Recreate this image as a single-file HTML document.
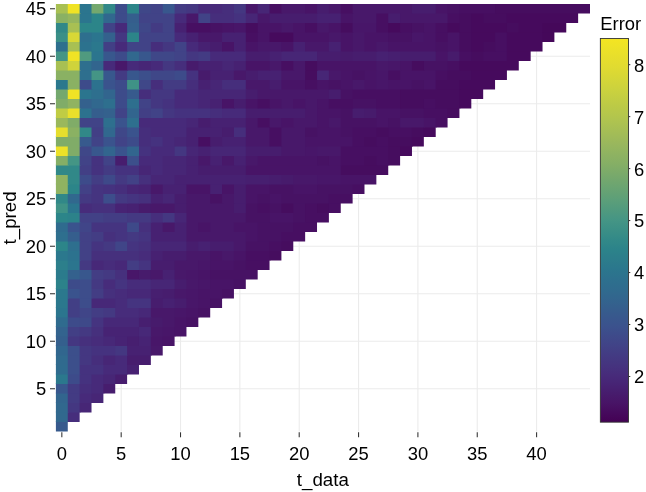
<!DOCTYPE html>
<html><head><meta charset="utf-8"><style>
html,body{margin:0;padding:0;background:#fff;}
svg{display:block;will-change:transform;}
text{font-family:"Liberation Sans",sans-serif;font-size:18.4px;fill:#000;}
</style></head><body>
<svg width="646" height="492" viewBox="0 0 646 492">
<defs><linearGradient id="lg" x1="0" y1="0" x2="0" y2="1"><stop offset="0.000" stop-color="#f4e522"/><stop offset="0.025" stop-color="#ede227"/><stop offset="0.050" stop-color="#e7de2c"/><stop offset="0.075" stop-color="#e0db31"/><stop offset="0.100" stop-color="#d7d736"/><stop offset="0.125" stop-color="#ced33c"/><stop offset="0.150" stop-color="#c5cf41"/><stop offset="0.175" stop-color="#bcca46"/><stop offset="0.200" stop-color="#b4c64c"/><stop offset="0.225" stop-color="#abc152"/><stop offset="0.250" stop-color="#a2bc57"/><stop offset="0.275" stop-color="#99b75d"/><stop offset="0.300" stop-color="#8fb361"/><stop offset="0.325" stop-color="#86af65"/><stop offset="0.350" stop-color="#7baa6a"/><stop offset="0.375" stop-color="#70a66f"/><stop offset="0.400" stop-color="#65a274"/><stop offset="0.425" stop-color="#5a9e7a"/><stop offset="0.450" stop-color="#4f997f"/><stop offset="0.475" stop-color="#449585"/><stop offset="0.500" stop-color="#3b8f86"/><stop offset="0.525" stop-color="#328988"/><stop offset="0.550" stop-color="#2c838a"/><stop offset="0.575" stop-color="#2c7d8b"/><stop offset="0.600" stop-color="#2b778d"/><stop offset="0.625" stop-color="#2d718e"/><stop offset="0.650" stop-color="#2f6c8e"/><stop offset="0.675" stop-color="#32668e"/><stop offset="0.700" stop-color="#355f8d"/><stop offset="0.725" stop-color="#38588d"/><stop offset="0.750" stop-color="#3b528d"/><stop offset="0.775" stop-color="#3e4a8a"/><stop offset="0.800" stop-color="#414387"/><stop offset="0.825" stop-color="#433b83"/><stop offset="0.850" stop-color="#45347f"/><stop offset="0.875" stop-color="#472c7b"/><stop offset="0.900" stop-color="#472475"/><stop offset="0.925" stop-color="#471c6d"/><stop offset="0.950" stop-color="#481466"/><stop offset="0.975" stop-color="#460a5d"/><stop offset="1.000" stop-color="#440154"/></linearGradient></defs>
<rect width="646" height="492" fill="#fff"/>
<g stroke="#ebebeb" stroke-width="1.07"><line x1="61.83" y1="4.0" x2="61.83" y2="431.5"/><line x1="121.18" y1="4.0" x2="121.18" y2="431.5"/><line x1="180.52" y1="4.0" x2="180.52" y2="431.5"/><line x1="239.87" y1="4.0" x2="239.87" y2="431.5"/><line x1="299.21" y1="4.0" x2="299.21" y2="431.5"/><line x1="358.56" y1="4.0" x2="358.56" y2="431.5"/><line x1="417.90" y1="4.0" x2="417.90" y2="431.5"/><line x1="477.25" y1="4.0" x2="477.25" y2="431.5"/><line x1="536.59" y1="4.0" x2="536.59" y2="431.5"/><line x1="55.9" y1="388.75" x2="590.0" y2="388.75"/><line x1="55.9" y1="341.25" x2="590.0" y2="341.25"/><line x1="55.9" y1="293.75" x2="590.0" y2="293.75"/><line x1="55.9" y1="246.25" x2="590.0" y2="246.25"/><line x1="55.9" y1="198.75" x2="590.0" y2="198.75"/><line x1="55.9" y1="151.25" x2="590.0" y2="151.25"/><line x1="55.9" y1="103.75" x2="590.0" y2="103.75"/><line x1="55.9" y1="56.25" x2="590.0" y2="56.25"/><line x1="55.9" y1="8.75" x2="590.0" y2="8.75"/></g>
<g><rect x="55.90" y="421.00" width="11.87" height="10.50" fill="#375a8d"/><rect x="55.90" y="411.50" width="12.87" height="10.50" fill="#31688e"/><rect x="67.77" y="411.50" width="11.87" height="10.50" fill="#462e7c"/><rect x="55.90" y="402.00" width="12.87" height="10.50" fill="#31688e"/><rect x="67.77" y="402.00" width="12.87" height="10.50" fill="#443781"/><rect x="79.64" y="402.00" width="11.87" height="10.50" fill="#472676"/><rect x="55.90" y="392.50" width="12.87" height="10.50" fill="#32658e"/><rect x="67.77" y="392.50" width="12.87" height="10.50" fill="#433b83"/><rect x="79.64" y="392.50" width="12.87" height="10.50" fill="#472a7a"/><rect x="91.51" y="392.50" width="11.87" height="10.50" fill="#472676"/><rect x="55.90" y="383.00" width="12.87" height="10.50" fill="#38578d"/><rect x="67.77" y="383.00" width="12.87" height="10.50" fill="#433b83"/><rect x="79.64" y="383.00" width="12.87" height="10.50" fill="#462e7c"/><rect x="91.51" y="383.00" width="12.87" height="10.50" fill="#472a7a"/><rect x="103.38" y="383.00" width="11.87" height="10.50" fill="#471d6e"/><rect x="55.90" y="373.50" width="12.87" height="10.50" fill="#2b788d"/><rect x="67.77" y="373.50" width="12.87" height="10.50" fill="#3d4b8a"/><rect x="79.64" y="373.50" width="12.87" height="10.50" fill="#45327f"/><rect x="91.51" y="373.50" width="12.87" height="10.50" fill="#472a7a"/><rect x="103.38" y="373.50" width="12.87" height="10.50" fill="#472676"/><rect x="115.24" y="373.50" width="11.87" height="10.50" fill="#471d6e"/><rect x="55.90" y="364.00" width="12.87" height="10.50" fill="#2f6b8e"/><rect x="67.77" y="364.00" width="12.87" height="10.50" fill="#3c4f8b"/><rect x="79.64" y="364.00" width="24.74" height="10.50" fill="#45327f"/><rect x="103.38" y="364.00" width="24.74" height="10.50" fill="#472a7a"/><rect x="127.11" y="364.00" width="11.87" height="10.50" fill="#472172"/><rect x="55.90" y="354.50" width="12.87" height="10.50" fill="#306a8e"/><rect x="67.77" y="354.50" width="12.87" height="10.50" fill="#3c4f8b"/><rect x="79.64" y="354.50" width="12.87" height="10.50" fill="#443781"/><rect x="91.51" y="354.50" width="12.87" height="10.50" fill="#462e7c"/><rect x="103.38" y="354.50" width="12.87" height="10.50" fill="#472676"/><rect x="115.24" y="354.50" width="12.87" height="10.50" fill="#472a7a"/><rect x="127.11" y="354.50" width="23.74" height="10.50" fill="#471d6e"/><rect x="55.90" y="345.00" width="12.87" height="10.50" fill="#31668e"/><rect x="67.77" y="345.00" width="12.87" height="10.50" fill="#3c4f8b"/><rect x="79.64" y="345.00" width="12.87" height="10.50" fill="#443781"/><rect x="91.51" y="345.00" width="24.74" height="10.50" fill="#45327f"/><rect x="115.24" y="345.00" width="12.87" height="10.50" fill="#443781"/><rect x="127.11" y="345.00" width="24.74" height="10.50" fill="#472172"/><rect x="150.85" y="345.00" width="11.87" height="10.50" fill="#48186a"/><rect x="55.90" y="335.50" width="12.87" height="10.50" fill="#345f8d"/><rect x="67.77" y="335.50" width="12.87" height="10.50" fill="#443781"/><rect x="79.64" y="335.50" width="12.87" height="10.50" fill="#46307d"/><rect x="91.51" y="335.50" width="12.87" height="10.50" fill="#472c7b"/><rect x="103.38" y="335.50" width="12.87" height="10.50" fill="#472878"/><rect x="115.24" y="335.50" width="12.87" height="10.50" fill="#472374"/><rect x="127.11" y="335.50" width="12.87" height="10.50" fill="#471f70"/><rect x="138.98" y="335.50" width="12.87" height="10.50" fill="#472374"/><rect x="150.85" y="335.50" width="12.87" height="10.50" fill="#481669"/><rect x="162.72" y="335.50" width="11.87" height="10.50" fill="#481467"/><rect x="55.90" y="326.00" width="12.87" height="10.50" fill="#33638e"/><rect x="67.77" y="326.00" width="12.87" height="10.50" fill="#423f85"/><rect x="79.64" y="326.00" width="12.87" height="10.50" fill="#443982"/><rect x="91.51" y="326.00" width="12.87" height="10.50" fill="#46307d"/><rect x="103.38" y="326.00" width="36.61" height="10.50" fill="#472374"/><rect x="138.98" y="326.00" width="12.87" height="10.50" fill="#472878"/><rect x="150.85" y="326.00" width="12.87" height="10.50" fill="#48186a"/><rect x="162.72" y="326.00" width="12.87" height="10.50" fill="#481669"/><rect x="174.59" y="326.00" width="11.87" height="10.50" fill="#481467"/><rect x="55.90" y="316.50" width="12.87" height="10.50" fill="#2f6b8e"/><rect x="67.77" y="316.50" width="12.87" height="10.50" fill="#3d4b8a"/><rect x="79.64" y="316.50" width="12.87" height="10.50" fill="#3e4989"/><rect x="91.51" y="316.50" width="12.87" height="10.50" fill="#453480"/><rect x="103.38" y="316.50" width="36.61" height="10.50" fill="#472878"/><rect x="138.98" y="316.50" width="12.87" height="10.50" fill="#471f70"/><rect x="150.85" y="316.50" width="12.87" height="10.50" fill="#471b6c"/><rect x="162.72" y="316.50" width="12.87" height="10.50" fill="#48186a"/><rect x="174.59" y="316.50" width="12.87" height="10.50" fill="#481467"/><rect x="186.46" y="316.50" width="11.87" height="10.50" fill="#471264"/><rect x="55.90" y="307.00" width="12.87" height="10.50" fill="#2b758e"/><rect x="67.77" y="307.00" width="12.87" height="10.50" fill="#423f85"/><rect x="79.64" y="307.00" width="12.87" height="10.50" fill="#404588"/><rect x="91.51" y="307.00" width="12.87" height="10.50" fill="#433d84"/><rect x="103.38" y="307.00" width="12.87" height="10.50" fill="#443982"/><rect x="115.24" y="307.00" width="24.74" height="10.50" fill="#472c7b"/><rect x="138.98" y="307.00" width="12.87" height="10.50" fill="#472878"/><rect x="150.85" y="307.00" width="24.74" height="10.50" fill="#48186a"/><rect x="174.59" y="307.00" width="12.87" height="10.50" fill="#481669"/><rect x="186.46" y="307.00" width="12.87" height="10.50" fill="#481467"/><rect x="198.33" y="307.00" width="11.87" height="10.50" fill="#471264"/><rect x="55.90" y="297.50" width="12.87" height="10.50" fill="#2b788d"/><rect x="67.77" y="297.50" width="12.87" height="10.50" fill="#423f85"/><rect x="79.64" y="297.50" width="12.87" height="10.50" fill="#3d4d8b"/><rect x="91.51" y="297.50" width="24.74" height="10.50" fill="#472878"/><rect x="115.24" y="297.50" width="12.87" height="10.50" fill="#472c7b"/><rect x="127.11" y="297.50" width="24.74" height="10.50" fill="#453480"/><rect x="150.85" y="297.50" width="12.87" height="10.50" fill="#471d6e"/><rect x="162.72" y="297.50" width="12.87" height="10.50" fill="#472172"/><rect x="174.59" y="297.50" width="12.87" height="10.50" fill="#471d6e"/><rect x="186.46" y="297.50" width="12.87" height="10.50" fill="#481669"/><rect x="198.33" y="297.50" width="12.87" height="10.50" fill="#481467"/><rect x="210.20" y="297.50" width="11.87" height="10.50" fill="#471264"/><rect x="55.90" y="288.00" width="12.87" height="10.50" fill="#2b788d"/><rect x="67.77" y="288.00" width="12.87" height="10.50" fill="#3a538d"/><rect x="79.64" y="288.00" width="12.87" height="10.50" fill="#3d4d8b"/><rect x="91.51" y="288.00" width="12.87" height="10.50" fill="#433d84"/><rect x="103.38" y="288.00" width="12.87" height="10.50" fill="#46307d"/><rect x="115.24" y="288.00" width="12.87" height="10.50" fill="#472c7b"/><rect x="127.11" y="288.00" width="24.74" height="10.50" fill="#472878"/><rect x="150.85" y="288.00" width="12.87" height="10.50" fill="#471f70"/><rect x="162.72" y="288.00" width="12.87" height="10.50" fill="#471d6e"/><rect x="174.59" y="288.00" width="12.87" height="10.50" fill="#48186a"/><rect x="186.46" y="288.00" width="12.87" height="10.50" fill="#481669"/><rect x="198.33" y="288.00" width="24.74" height="10.50" fill="#481467"/><rect x="222.06" y="288.00" width="11.87" height="10.50" fill="#471264"/><rect x="55.90" y="278.50" width="12.87" height="10.50" fill="#2c828a"/><rect x="67.77" y="278.50" width="12.87" height="10.50" fill="#3d4b8a"/><rect x="79.64" y="278.50" width="12.87" height="10.50" fill="#3d4d8b"/><rect x="91.51" y="278.50" width="12.87" height="10.50" fill="#443982"/><rect x="103.38" y="278.50" width="12.87" height="10.50" fill="#472c7b"/><rect x="115.24" y="278.50" width="12.87" height="10.50" fill="#453480"/><rect x="127.11" y="278.50" width="24.74" height="10.50" fill="#472c7b"/><rect x="150.85" y="278.50" width="24.74" height="10.50" fill="#472676"/><rect x="174.59" y="278.50" width="12.87" height="10.50" fill="#471d6e"/><rect x="186.46" y="278.50" width="12.87" height="10.50" fill="#48186a"/><rect x="198.33" y="278.50" width="12.87" height="10.50" fill="#481669"/><rect x="210.20" y="278.50" width="24.74" height="10.50" fill="#481467"/><rect x="233.93" y="278.50" width="11.87" height="10.50" fill="#471264"/><rect x="55.90" y="269.00" width="12.87" height="10.50" fill="#2b7b8c"/><rect x="67.77" y="269.00" width="12.87" height="10.50" fill="#34618d"/><rect x="79.64" y="269.00" width="12.87" height="10.50" fill="#38578d"/><rect x="91.51" y="269.00" width="12.87" height="10.50" fill="#433d84"/><rect x="103.38" y="269.00" width="12.87" height="10.50" fill="#443982"/><rect x="115.24" y="269.00" width="12.87" height="10.50" fill="#46307d"/><rect x="127.11" y="269.00" width="12.87" height="10.50" fill="#481669"/><rect x="138.98" y="269.00" width="12.87" height="10.50" fill="#471b6c"/><rect x="150.85" y="269.00" width="12.87" height="10.50" fill="#48186a"/><rect x="162.72" y="269.00" width="12.87" height="10.50" fill="#472172"/><rect x="174.59" y="269.00" width="12.87" height="10.50" fill="#48186a"/><rect x="186.46" y="269.00" width="12.87" height="10.50" fill="#481669"/><rect x="198.33" y="269.00" width="12.87" height="10.50" fill="#481467"/><rect x="210.20" y="269.00" width="47.48" height="10.50" fill="#471264"/><rect x="55.90" y="259.50" width="12.87" height="10.50" fill="#2c7f8b"/><rect x="67.77" y="259.50" width="12.87" height="10.50" fill="#2b758e"/><rect x="79.64" y="259.50" width="12.87" height="10.50" fill="#443982"/><rect x="91.51" y="259.50" width="12.87" height="10.50" fill="#472878"/><rect x="103.38" y="259.50" width="12.87" height="10.50" fill="#472c7b"/><rect x="115.24" y="259.50" width="12.87" height="10.50" fill="#472878"/><rect x="127.11" y="259.50" width="12.87" height="10.50" fill="#433d84"/><rect x="138.98" y="259.50" width="12.87" height="10.50" fill="#453480"/><rect x="150.85" y="259.50" width="24.74" height="10.50" fill="#471d6e"/><rect x="174.59" y="259.50" width="24.74" height="10.50" fill="#48186a"/><rect x="198.33" y="259.50" width="12.87" height="10.50" fill="#481669"/><rect x="210.20" y="259.50" width="24.74" height="10.50" fill="#481467"/><rect x="233.93" y="259.50" width="12.87" height="10.50" fill="#471264"/><rect x="245.80" y="259.50" width="23.74" height="10.50" fill="#470f62"/><rect x="55.90" y="250.00" width="12.87" height="10.50" fill="#2b788d"/><rect x="67.77" y="250.00" width="12.87" height="10.50" fill="#2c728e"/><rect x="79.64" y="250.00" width="12.87" height="10.50" fill="#424186"/><rect x="91.51" y="250.00" width="48.48" height="10.50" fill="#46307d"/><rect x="138.98" y="250.00" width="12.87" height="10.50" fill="#472c7b"/><rect x="150.85" y="250.00" width="12.87" height="10.50" fill="#472172"/><rect x="162.72" y="250.00" width="24.74" height="10.50" fill="#471d6e"/><rect x="186.46" y="250.00" width="24.74" height="10.50" fill="#48186a"/><rect x="210.20" y="250.00" width="12.87" height="10.50" fill="#481467"/><rect x="222.06" y="250.00" width="12.87" height="10.50" fill="#48186a"/><rect x="233.93" y="250.00" width="12.87" height="10.50" fill="#481467"/><rect x="245.80" y="250.00" width="24.74" height="10.50" fill="#470f62"/><rect x="269.54" y="250.00" width="11.87" height="10.50" fill="#460d5f"/><rect x="55.90" y="240.50" width="12.87" height="10.50" fill="#2c8589"/><rect x="67.77" y="240.50" width="12.87" height="10.50" fill="#2e6f8e"/><rect x="79.64" y="240.50" width="12.87" height="10.50" fill="#424186"/><rect x="91.51" y="240.50" width="12.87" height="10.50" fill="#453480"/><rect x="103.38" y="240.50" width="12.87" height="10.50" fill="#443982"/><rect x="115.24" y="240.50" width="12.87" height="10.50" fill="#404588"/><rect x="127.11" y="240.50" width="12.87" height="10.50" fill="#453480"/><rect x="138.98" y="240.50" width="12.87" height="10.50" fill="#46307d"/><rect x="150.85" y="240.50" width="36.61" height="10.50" fill="#472676"/><rect x="186.46" y="240.50" width="12.87" height="10.50" fill="#471d6e"/><rect x="198.33" y="240.50" width="12.87" height="10.50" fill="#472172"/><rect x="210.20" y="240.50" width="24.74" height="10.50" fill="#471d6e"/><rect x="233.93" y="240.50" width="12.87" height="10.50" fill="#48186a"/><rect x="245.80" y="240.50" width="24.74" height="10.50" fill="#471264"/><rect x="269.54" y="240.50" width="12.87" height="10.50" fill="#470f62"/><rect x="281.41" y="240.50" width="11.87" height="10.50" fill="#460d5f"/><rect x="55.90" y="231.00" width="12.87" height="10.50" fill="#2e6f8e"/><rect x="67.77" y="231.00" width="12.87" height="10.50" fill="#355e8d"/><rect x="79.64" y="231.00" width="12.87" height="10.50" fill="#424186"/><rect x="91.51" y="231.00" width="12.87" height="10.50" fill="#433d84"/><rect x="103.38" y="231.00" width="12.87" height="10.50" fill="#46307d"/><rect x="115.24" y="231.00" width="12.87" height="10.50" fill="#453480"/><rect x="127.11" y="231.00" width="12.87" height="10.50" fill="#443982"/><rect x="138.98" y="231.00" width="12.87" height="10.50" fill="#453480"/><rect x="150.85" y="231.00" width="36.61" height="10.50" fill="#472172"/><rect x="186.46" y="231.00" width="60.34" height="10.50" fill="#48186a"/><rect x="245.80" y="231.00" width="12.87" height="10.50" fill="#481467"/><rect x="257.67" y="231.00" width="24.74" height="10.50" fill="#471264"/><rect x="281.41" y="231.00" width="23.74" height="10.50" fill="#470f62"/><rect x="55.90" y="221.50" width="12.87" height="10.50" fill="#2f6b8e"/><rect x="67.77" y="221.50" width="12.87" height="10.50" fill="#3a538d"/><rect x="79.64" y="221.50" width="12.87" height="10.50" fill="#404588"/><rect x="91.51" y="221.50" width="36.61" height="10.50" fill="#453480"/><rect x="127.11" y="221.50" width="12.87" height="10.50" fill="#3e4989"/><rect x="138.98" y="221.50" width="12.87" height="10.50" fill="#46307d"/><rect x="150.85" y="221.50" width="12.87" height="10.50" fill="#472172"/><rect x="162.72" y="221.50" width="12.87" height="10.50" fill="#48186a"/><rect x="174.59" y="221.50" width="12.87" height="10.50" fill="#472172"/><rect x="186.46" y="221.50" width="12.87" height="10.50" fill="#48186a"/><rect x="198.33" y="221.50" width="12.87" height="10.50" fill="#481467"/><rect x="210.20" y="221.50" width="24.74" height="10.50" fill="#48186a"/><rect x="233.93" y="221.50" width="24.74" height="10.50" fill="#481467"/><rect x="257.67" y="221.50" width="36.61" height="10.50" fill="#471264"/><rect x="293.28" y="221.50" width="23.74" height="10.50" fill="#470f62"/><rect x="55.90" y="212.00" width="12.87" height="10.50" fill="#2c8589"/><rect x="67.77" y="212.00" width="12.87" height="10.50" fill="#2c828a"/><rect x="79.64" y="212.00" width="24.74" height="10.50" fill="#424186"/><rect x="103.38" y="212.00" width="24.74" height="10.50" fill="#433d84"/><rect x="127.11" y="212.00" width="24.74" height="10.50" fill="#443982"/><rect x="150.85" y="212.00" width="12.87" height="10.50" fill="#462e7c"/><rect x="162.72" y="212.00" width="12.87" height="10.50" fill="#443781"/><rect x="174.59" y="212.00" width="12.87" height="10.50" fill="#472676"/><rect x="186.46" y="212.00" width="60.34" height="10.50" fill="#48186a"/><rect x="245.80" y="212.00" width="24.74" height="10.50" fill="#471264"/><rect x="269.54" y="212.00" width="24.74" height="10.50" fill="#481467"/><rect x="293.28" y="212.00" width="12.87" height="10.50" fill="#471264"/><rect x="305.15" y="212.00" width="23.74" height="10.50" fill="#470f62"/><rect x="55.90" y="202.50" width="12.87" height="10.50" fill="#3f9286"/><rect x="67.77" y="202.50" width="12.87" height="10.50" fill="#2b758e"/><rect x="79.64" y="202.50" width="12.87" height="10.50" fill="#472c7b"/><rect x="91.51" y="202.50" width="24.74" height="10.50" fill="#46307d"/><rect x="115.24" y="202.50" width="12.87" height="10.50" fill="#472374"/><rect x="127.11" y="202.50" width="12.87" height="10.50" fill="#472172"/><rect x="138.98" y="202.50" width="12.87" height="10.50" fill="#471b6c"/><rect x="150.85" y="202.50" width="24.74" height="10.50" fill="#48186a"/><rect x="174.59" y="202.50" width="12.87" height="10.50" fill="#471d6e"/><rect x="186.46" y="202.50" width="48.48" height="10.50" fill="#48186a"/><rect x="233.93" y="202.50" width="12.87" height="10.50" fill="#471d6e"/><rect x="245.80" y="202.50" width="12.87" height="10.50" fill="#471264"/><rect x="257.67" y="202.50" width="12.87" height="10.50" fill="#470f62"/><rect x="269.54" y="202.50" width="12.87" height="10.50" fill="#471264"/><rect x="281.41" y="202.50" width="12.87" height="10.50" fill="#460d5f"/><rect x="293.28" y="202.50" width="12.87" height="10.50" fill="#471264"/><rect x="305.15" y="202.50" width="12.87" height="10.50" fill="#470f62"/><rect x="317.02" y="202.50" width="12.87" height="10.50" fill="#460d5f"/><rect x="328.88" y="202.50" width="11.87" height="10.50" fill="#470f62"/><rect x="55.90" y="193.00" width="12.87" height="10.50" fill="#318888"/><rect x="67.77" y="193.00" width="12.87" height="10.50" fill="#31688e"/><rect x="79.64" y="193.00" width="12.87" height="10.50" fill="#443982"/><rect x="91.51" y="193.00" width="12.87" height="10.50" fill="#453480"/><rect x="103.38" y="193.00" width="12.87" height="10.50" fill="#3d4d8b"/><rect x="115.24" y="193.00" width="12.87" height="10.50" fill="#443982"/><rect x="127.11" y="193.00" width="12.87" height="10.50" fill="#453480"/><rect x="138.98" y="193.00" width="12.87" height="10.50" fill="#46307d"/><rect x="150.85" y="193.00" width="12.87" height="10.50" fill="#472172"/><rect x="162.72" y="193.00" width="12.87" height="10.50" fill="#472676"/><rect x="174.59" y="193.00" width="12.87" height="10.50" fill="#471d6e"/><rect x="186.46" y="193.00" width="24.74" height="10.50" fill="#48186a"/><rect x="210.20" y="193.00" width="12.87" height="10.50" fill="#471264"/><rect x="222.06" y="193.00" width="12.87" height="10.50" fill="#48186a"/><rect x="233.93" y="193.00" width="12.87" height="10.50" fill="#471d6e"/><rect x="245.80" y="193.00" width="12.87" height="10.50" fill="#481467"/><rect x="257.67" y="193.00" width="12.87" height="10.50" fill="#471264"/><rect x="269.54" y="193.00" width="12.87" height="10.50" fill="#481467"/><rect x="281.41" y="193.00" width="48.48" height="10.50" fill="#471264"/><rect x="328.88" y="193.00" width="23.74" height="10.50" fill="#470f62"/><rect x="55.90" y="183.50" width="12.87" height="10.50" fill="#90b361"/><rect x="67.77" y="183.50" width="12.87" height="10.50" fill="#2c8589"/><rect x="79.64" y="183.50" width="12.87" height="10.50" fill="#424186"/><rect x="91.51" y="183.50" width="12.87" height="10.50" fill="#453480"/><rect x="103.38" y="183.50" width="12.87" height="10.50" fill="#45327f"/><rect x="115.24" y="183.50" width="12.87" height="10.50" fill="#462e7c"/><rect x="127.11" y="183.50" width="12.87" height="10.50" fill="#472676"/><rect x="138.98" y="183.50" width="12.87" height="10.50" fill="#472374"/><rect x="150.85" y="183.50" width="12.87" height="10.50" fill="#48186a"/><rect x="162.72" y="183.50" width="24.74" height="10.50" fill="#472172"/><rect x="186.46" y="183.50" width="24.74" height="10.50" fill="#481467"/><rect x="210.20" y="183.50" width="12.87" height="10.50" fill="#472172"/><rect x="222.06" y="183.50" width="12.87" height="10.50" fill="#481467"/><rect x="233.93" y="183.50" width="12.87" height="10.50" fill="#471d6e"/><rect x="245.80" y="183.50" width="24.74" height="10.50" fill="#481467"/><rect x="269.54" y="183.50" width="24.74" height="10.50" fill="#471264"/><rect x="293.28" y="183.50" width="24.74" height="10.50" fill="#481467"/><rect x="317.02" y="183.50" width="36.61" height="10.50" fill="#471264"/><rect x="352.62" y="183.50" width="11.87" height="10.50" fill="#470f62"/><rect x="55.90" y="174.00" width="12.87" height="10.50" fill="#90b361"/><rect x="67.77" y="174.00" width="12.87" height="10.50" fill="#318888"/><rect x="79.64" y="174.00" width="12.87" height="10.50" fill="#3d4b8a"/><rect x="91.51" y="174.00" width="12.87" height="10.50" fill="#433d84"/><rect x="103.38" y="174.00" width="12.87" height="10.50" fill="#3e4989"/><rect x="115.24" y="174.00" width="12.87" height="10.50" fill="#443982"/><rect x="127.11" y="174.00" width="12.87" height="10.50" fill="#424186"/><rect x="138.98" y="174.00" width="12.87" height="10.50" fill="#46307d"/><rect x="150.85" y="174.00" width="24.74" height="10.50" fill="#472676"/><rect x="174.59" y="174.00" width="72.21" height="10.50" fill="#472172"/><rect x="245.80" y="174.00" width="24.74" height="10.50" fill="#471f70"/><rect x="269.54" y="174.00" width="12.87" height="10.50" fill="#471d6e"/><rect x="281.41" y="174.00" width="12.87" height="10.50" fill="#471b6c"/><rect x="293.28" y="174.00" width="24.74" height="10.50" fill="#48186a"/><rect x="317.02" y="174.00" width="24.74" height="10.50" fill="#481669"/><rect x="340.75" y="174.00" width="35.61" height="10.50" fill="#481467"/><rect x="55.90" y="164.50" width="24.74" height="10.50" fill="#318888"/><rect x="79.64" y="164.50" width="12.87" height="10.50" fill="#423f85"/><rect x="91.51" y="164.50" width="12.87" height="10.50" fill="#45327f"/><rect x="103.38" y="164.50" width="12.87" height="10.50" fill="#433b83"/><rect x="115.24" y="164.50" width="24.74" height="10.50" fill="#45327f"/><rect x="138.98" y="164.50" width="12.87" height="10.50" fill="#472676"/><rect x="150.85" y="164.50" width="12.87" height="10.50" fill="#472a7a"/><rect x="162.72" y="164.50" width="24.74" height="10.50" fill="#472676"/><rect x="186.46" y="164.50" width="12.87" height="10.50" fill="#472172"/><rect x="198.33" y="164.50" width="48.48" height="10.50" fill="#471d6e"/><rect x="245.80" y="164.50" width="95.95" height="10.50" fill="#481467"/><rect x="340.75" y="164.50" width="47.48" height="10.50" fill="#460d5f"/><rect x="55.90" y="155.00" width="12.87" height="10.50" fill="#85ae66"/><rect x="67.77" y="155.00" width="12.87" height="10.50" fill="#449585"/><rect x="79.64" y="155.00" width="12.87" height="10.50" fill="#414387"/><rect x="91.51" y="155.00" width="12.87" height="10.50" fill="#45327f"/><rect x="103.38" y="155.00" width="12.87" height="10.50" fill="#414387"/><rect x="115.24" y="155.00" width="12.87" height="10.50" fill="#471d6e"/><rect x="127.11" y="155.00" width="12.87" height="10.50" fill="#3c4f8b"/><rect x="138.98" y="155.00" width="24.74" height="10.50" fill="#472a7a"/><rect x="162.72" y="155.00" width="24.74" height="10.50" fill="#472676"/><rect x="186.46" y="155.00" width="12.87" height="10.50" fill="#472172"/><rect x="198.33" y="155.00" width="12.87" height="10.50" fill="#48186a"/><rect x="210.20" y="155.00" width="12.87" height="10.50" fill="#472172"/><rect x="222.06" y="155.00" width="12.87" height="10.50" fill="#48186a"/><rect x="233.93" y="155.00" width="12.87" height="10.50" fill="#472172"/><rect x="245.80" y="155.00" width="12.87" height="10.50" fill="#48186a"/><rect x="257.67" y="155.00" width="60.34" height="10.50" fill="#481467"/><rect x="317.02" y="155.00" width="12.87" height="10.50" fill="#471264"/><rect x="328.88" y="155.00" width="12.87" height="10.50" fill="#481467"/><rect x="340.75" y="155.00" width="24.74" height="10.50" fill="#470f62"/><rect x="364.49" y="155.00" width="12.87" height="10.50" fill="#460d5f"/><rect x="376.36" y="155.00" width="12.87" height="10.50" fill="#470f62"/><rect x="388.23" y="155.00" width="11.87" height="10.50" fill="#460d5f"/><rect x="55.90" y="145.50" width="12.87" height="10.50" fill="#ede128"/><rect x="67.77" y="145.50" width="12.87" height="10.50" fill="#80ac68"/><rect x="79.64" y="145.50" width="12.87" height="10.50" fill="#3f4788"/><rect x="91.51" y="145.50" width="12.87" height="10.50" fill="#38578d"/><rect x="103.38" y="145.50" width="12.87" height="10.50" fill="#32658e"/><rect x="115.24" y="145.50" width="12.87" height="10.50" fill="#3a538d"/><rect x="127.11" y="145.50" width="12.87" height="10.50" fill="#32658e"/><rect x="138.98" y="145.50" width="12.87" height="10.50" fill="#45327f"/><rect x="150.85" y="145.50" width="24.74" height="10.50" fill="#472a7a"/><rect x="174.59" y="145.50" width="12.87" height="10.50" fill="#443781"/><rect x="186.46" y="145.50" width="12.87" height="10.50" fill="#472676"/><rect x="198.33" y="145.50" width="12.87" height="10.50" fill="#472172"/><rect x="210.20" y="145.50" width="36.61" height="10.50" fill="#472676"/><rect x="245.80" y="145.50" width="36.61" height="10.50" fill="#471d6e"/><rect x="281.41" y="145.50" width="24.74" height="10.50" fill="#48186a"/><rect x="305.15" y="145.50" width="12.87" height="10.50" fill="#481669"/><rect x="317.02" y="145.50" width="24.74" height="10.50" fill="#48186a"/><rect x="340.75" y="145.50" width="48.48" height="10.50" fill="#470f62"/><rect x="388.23" y="145.50" width="12.87" height="10.50" fill="#460d5f"/><rect x="400.10" y="145.50" width="11.87" height="10.50" fill="#460a5d"/><rect x="55.90" y="136.00" width="24.74" height="10.50" fill="#80ac68"/><rect x="79.64" y="136.00" width="12.87" height="10.50" fill="#375a8d"/><rect x="91.51" y="136.00" width="12.87" height="10.50" fill="#414387"/><rect x="103.38" y="136.00" width="12.87" height="10.50" fill="#3a538d"/><rect x="115.24" y="136.00" width="12.87" height="10.50" fill="#414387"/><rect x="127.11" y="136.00" width="12.87" height="10.50" fill="#3d4b8a"/><rect x="138.98" y="136.00" width="12.87" height="10.50" fill="#462e7c"/><rect x="150.85" y="136.00" width="12.87" height="10.50" fill="#45327f"/><rect x="162.72" y="136.00" width="12.87" height="10.50" fill="#472a7a"/><rect x="174.59" y="136.00" width="12.87" height="10.50" fill="#472676"/><rect x="186.46" y="136.00" width="12.87" height="10.50" fill="#472172"/><rect x="198.33" y="136.00" width="12.87" height="10.50" fill="#470f62"/><rect x="210.20" y="136.00" width="12.87" height="10.50" fill="#471d6e"/><rect x="222.06" y="136.00" width="24.74" height="10.50" fill="#472172"/><rect x="245.80" y="136.00" width="24.74" height="10.50" fill="#48186a"/><rect x="269.54" y="136.00" width="12.87" height="10.50" fill="#470f62"/><rect x="281.41" y="136.00" width="24.74" height="10.50" fill="#48186a"/><rect x="305.15" y="136.00" width="48.48" height="10.50" fill="#481467"/><rect x="352.62" y="136.00" width="12.87" height="10.50" fill="#470f62"/><rect x="364.49" y="136.00" width="12.87" height="10.50" fill="#460d5f"/><rect x="376.36" y="136.00" width="12.87" height="10.50" fill="#470f62"/><rect x="388.23" y="136.00" width="24.74" height="10.50" fill="#460d5f"/><rect x="411.97" y="136.00" width="11.87" height="10.50" fill="#460a5d"/><rect x="55.90" y="126.50" width="12.87" height="10.50" fill="#e6de2d"/><rect x="67.77" y="126.50" width="12.87" height="10.50" fill="#8ab163"/><rect x="79.64" y="126.50" width="12.87" height="10.50" fill="#318888"/><rect x="91.51" y="126.50" width="12.87" height="10.50" fill="#423f85"/><rect x="103.38" y="126.50" width="12.87" height="10.50" fill="#31688e"/><rect x="115.24" y="126.50" width="12.87" height="10.50" fill="#3f4788"/><rect x="127.11" y="126.50" width="12.87" height="10.50" fill="#3a538d"/><rect x="138.98" y="126.50" width="12.87" height="10.50" fill="#462e7c"/><rect x="150.85" y="126.50" width="36.61" height="10.50" fill="#472a7a"/><rect x="186.46" y="126.50" width="36.61" height="10.50" fill="#472172"/><rect x="222.06" y="126.50" width="12.87" height="10.50" fill="#471d6e"/><rect x="233.93" y="126.50" width="12.87" height="10.50" fill="#462e7c"/><rect x="245.80" y="126.50" width="24.74" height="10.50" fill="#48186a"/><rect x="269.54" y="126.50" width="12.87" height="10.50" fill="#470f62"/><rect x="281.41" y="126.50" width="24.74" height="10.50" fill="#48186a"/><rect x="305.15" y="126.50" width="12.87" height="10.50" fill="#471264"/><rect x="317.02" y="126.50" width="24.74" height="10.50" fill="#481467"/><rect x="340.75" y="126.50" width="12.87" height="10.50" fill="#471264"/><rect x="352.62" y="126.50" width="24.74" height="10.50" fill="#470f62"/><rect x="376.36" y="126.50" width="12.87" height="10.50" fill="#460d5f"/><rect x="388.23" y="126.50" width="24.74" height="10.50" fill="#470f62"/><rect x="411.97" y="126.50" width="12.87" height="10.50" fill="#460d5f"/><rect x="423.84" y="126.50" width="11.87" height="10.50" fill="#460a5d"/><rect x="55.90" y="117.00" width="12.87" height="10.50" fill="#9ab85c"/><rect x="67.77" y="117.00" width="12.87" height="10.50" fill="#80ac68"/><rect x="79.64" y="117.00" width="24.74" height="10.50" fill="#414387"/><rect x="103.38" y="117.00" width="12.87" height="10.50" fill="#2e6f8e"/><rect x="115.24" y="117.00" width="12.87" height="10.50" fill="#3a538d"/><rect x="127.11" y="117.00" width="12.87" height="10.50" fill="#2e6f8e"/><rect x="138.98" y="117.00" width="48.48" height="10.50" fill="#472a7a"/><rect x="186.46" y="117.00" width="12.87" height="10.50" fill="#472676"/><rect x="198.33" y="117.00" width="12.87" height="10.50" fill="#471d6e"/><rect x="210.20" y="117.00" width="36.61" height="10.50" fill="#472172"/><rect x="245.80" y="117.00" width="12.87" height="10.50" fill="#48186a"/><rect x="257.67" y="117.00" width="12.87" height="10.50" fill="#470f62"/><rect x="269.54" y="117.00" width="12.87" height="10.50" fill="#48186a"/><rect x="281.41" y="117.00" width="12.87" height="10.50" fill="#481467"/><rect x="293.28" y="117.00" width="24.74" height="10.50" fill="#48186a"/><rect x="317.02" y="117.00" width="12.87" height="10.50" fill="#481467"/><rect x="328.88" y="117.00" width="12.87" height="10.50" fill="#48186a"/><rect x="340.75" y="117.00" width="36.61" height="10.50" fill="#471264"/><rect x="376.36" y="117.00" width="12.87" height="10.50" fill="#481467"/><rect x="388.23" y="117.00" width="12.87" height="10.50" fill="#471264"/><rect x="400.10" y="117.00" width="24.74" height="10.50" fill="#48186a"/><rect x="423.84" y="117.00" width="12.87" height="10.50" fill="#481467"/><rect x="435.70" y="117.00" width="11.87" height="10.50" fill="#470f62"/><rect x="55.90" y="107.50" width="12.87" height="10.50" fill="#c0cc44"/><rect x="67.77" y="107.50" width="12.87" height="10.50" fill="#e9e02b"/><rect x="79.64" y="107.50" width="12.87" height="10.50" fill="#2c728e"/><rect x="91.51" y="107.50" width="12.87" height="10.50" fill="#355e8d"/><rect x="103.38" y="107.50" width="12.87" height="10.50" fill="#34618d"/><rect x="115.24" y="107.50" width="12.87" height="10.50" fill="#414387"/><rect x="127.11" y="107.50" width="12.87" height="10.50" fill="#32658e"/><rect x="138.98" y="107.50" width="12.87" height="10.50" fill="#423f85"/><rect x="150.85" y="107.50" width="12.87" height="10.50" fill="#414387"/><rect x="162.72" y="107.50" width="12.87" height="10.50" fill="#443781"/><rect x="174.59" y="107.50" width="36.61" height="10.50" fill="#45327f"/><rect x="210.20" y="107.50" width="12.87" height="10.50" fill="#462e7c"/><rect x="222.06" y="107.50" width="24.74" height="10.50" fill="#472a7a"/><rect x="245.80" y="107.50" width="60.34" height="10.50" fill="#471d6e"/><rect x="305.15" y="107.50" width="12.87" height="10.50" fill="#48186a"/><rect x="317.02" y="107.50" width="24.74" height="10.50" fill="#481467"/><rect x="340.75" y="107.50" width="12.87" height="10.50" fill="#471264"/><rect x="352.62" y="107.50" width="12.87" height="10.50" fill="#471d6e"/><rect x="364.49" y="107.50" width="12.87" height="10.50" fill="#471b6c"/><rect x="376.36" y="107.50" width="24.74" height="10.50" fill="#481467"/><rect x="400.10" y="107.50" width="24.74" height="10.50" fill="#471264"/><rect x="423.84" y="107.50" width="24.74" height="10.50" fill="#470f62"/><rect x="447.57" y="107.50" width="11.87" height="10.50" fill="#460d5f"/><rect x="55.90" y="98.00" width="12.87" height="10.50" fill="#80ac68"/><rect x="67.77" y="98.00" width="12.87" height="10.50" fill="#90b361"/><rect x="79.64" y="98.00" width="12.87" height="10.50" fill="#34618d"/><rect x="91.51" y="98.00" width="12.87" height="10.50" fill="#31688e"/><rect x="103.38" y="98.00" width="12.87" height="10.50" fill="#2e6f8e"/><rect x="115.24" y="98.00" width="12.87" height="10.50" fill="#3d4b8a"/><rect x="127.11" y="98.00" width="12.87" height="10.50" fill="#2e6f8e"/><rect x="138.98" y="98.00" width="12.87" height="10.50" fill="#414387"/><rect x="150.85" y="98.00" width="12.87" height="10.50" fill="#443781"/><rect x="162.72" y="98.00" width="12.87" height="10.50" fill="#45327f"/><rect x="174.59" y="98.00" width="24.74" height="10.50" fill="#472a7a"/><rect x="198.33" y="98.00" width="12.87" height="10.50" fill="#472676"/><rect x="210.20" y="98.00" width="12.87" height="10.50" fill="#472172"/><rect x="222.06" y="98.00" width="12.87" height="10.50" fill="#481467"/><rect x="233.93" y="98.00" width="12.87" height="10.50" fill="#471d6e"/><rect x="245.80" y="98.00" width="12.87" height="10.50" fill="#481467"/><rect x="257.67" y="98.00" width="12.87" height="10.50" fill="#470f62"/><rect x="269.54" y="98.00" width="12.87" height="10.50" fill="#481467"/><rect x="281.41" y="98.00" width="12.87" height="10.50" fill="#48186a"/><rect x="293.28" y="98.00" width="12.87" height="10.50" fill="#481467"/><rect x="305.15" y="98.00" width="12.87" height="10.50" fill="#48186a"/><rect x="317.02" y="98.00" width="12.87" height="10.50" fill="#481467"/><rect x="328.88" y="98.00" width="24.74" height="10.50" fill="#470f62"/><rect x="352.62" y="98.00" width="24.74" height="10.50" fill="#471264"/><rect x="376.36" y="98.00" width="24.74" height="10.50" fill="#470f62"/><rect x="400.10" y="98.00" width="24.74" height="10.50" fill="#460d5f"/><rect x="423.84" y="98.00" width="12.87" height="10.50" fill="#470f62"/><rect x="435.70" y="98.00" width="24.74" height="10.50" fill="#460d5f"/><rect x="459.44" y="98.00" width="11.87" height="10.50" fill="#460a5d"/><rect x="55.90" y="88.50" width="12.87" height="10.50" fill="#74a86e"/><rect x="67.77" y="88.50" width="12.87" height="10.50" fill="#f0e325"/><rect x="79.64" y="88.50" width="12.87" height="10.50" fill="#2b758e"/><rect x="91.51" y="88.50" width="12.87" height="10.50" fill="#2e6f8e"/><rect x="103.38" y="88.50" width="12.87" height="10.50" fill="#32658e"/><rect x="115.24" y="88.50" width="12.87" height="10.50" fill="#3d4b8a"/><rect x="127.11" y="88.50" width="12.87" height="10.50" fill="#375a8d"/><rect x="138.98" y="88.50" width="12.87" height="10.50" fill="#462e7c"/><rect x="150.85" y="88.50" width="24.74" height="10.50" fill="#443781"/><rect x="174.59" y="88.50" width="24.74" height="10.50" fill="#472a7a"/><rect x="198.33" y="88.50" width="48.48" height="10.50" fill="#472676"/><rect x="245.80" y="88.50" width="12.87" height="10.50" fill="#471d6e"/><rect x="257.67" y="88.50" width="72.21" height="10.50" fill="#48186a"/><rect x="328.88" y="88.50" width="12.87" height="10.50" fill="#471d6e"/><rect x="340.75" y="88.50" width="12.87" height="10.50" fill="#471264"/><rect x="352.62" y="88.50" width="48.48" height="10.50" fill="#470f62"/><rect x="400.10" y="88.50" width="60.34" height="10.50" fill="#460d5f"/><rect x="459.44" y="88.50" width="23.74" height="10.50" fill="#460a5d"/><rect x="55.90" y="79.00" width="12.87" height="10.50" fill="#2b788d"/><rect x="67.77" y="79.00" width="12.87" height="10.50" fill="#8ab163"/><rect x="79.64" y="79.00" width="12.87" height="10.50" fill="#3d4b8a"/><rect x="91.51" y="79.00" width="12.87" height="10.50" fill="#2c728e"/><rect x="103.38" y="79.00" width="12.87" height="10.50" fill="#3a538d"/><rect x="115.24" y="79.00" width="12.87" height="10.50" fill="#3d4b8a"/><rect x="127.11" y="79.00" width="12.87" height="10.50" fill="#3f9286"/><rect x="138.98" y="79.00" width="12.87" height="10.50" fill="#3f4788"/><rect x="150.85" y="79.00" width="12.87" height="10.50" fill="#462e7c"/><rect x="162.72" y="79.00" width="24.74" height="10.50" fill="#433b83"/><rect x="186.46" y="79.00" width="12.87" height="10.50" fill="#462e7c"/><rect x="198.33" y="79.00" width="12.87" height="10.50" fill="#472172"/><rect x="210.20" y="79.00" width="12.87" height="10.50" fill="#472676"/><rect x="222.06" y="79.00" width="24.74" height="10.50" fill="#462e7c"/><rect x="245.80" y="79.00" width="24.74" height="10.50" fill="#48186a"/><rect x="269.54" y="79.00" width="12.87" height="10.50" fill="#471d6e"/><rect x="281.41" y="79.00" width="24.74" height="10.50" fill="#481467"/><rect x="305.15" y="79.00" width="12.87" height="10.50" fill="#470f62"/><rect x="317.02" y="79.00" width="12.87" height="10.50" fill="#481467"/><rect x="328.88" y="79.00" width="12.87" height="10.50" fill="#471264"/><rect x="340.75" y="79.00" width="12.87" height="10.50" fill="#481467"/><rect x="352.62" y="79.00" width="12.87" height="10.50" fill="#48186a"/><rect x="364.49" y="79.00" width="12.87" height="10.50" fill="#481467"/><rect x="376.36" y="79.00" width="12.87" height="10.50" fill="#481669"/><rect x="388.23" y="79.00" width="24.74" height="10.50" fill="#481467"/><rect x="411.97" y="79.00" width="12.87" height="10.50" fill="#471264"/><rect x="423.84" y="79.00" width="12.87" height="10.50" fill="#481467"/><rect x="435.70" y="79.00" width="24.74" height="10.50" fill="#460d5f"/><rect x="459.44" y="79.00" width="35.61" height="10.50" fill="#460a5d"/><rect x="55.90" y="69.50" width="24.74" height="10.50" fill="#8ab163"/><rect x="79.64" y="69.50" width="12.87" height="10.50" fill="#2e6f8e"/><rect x="91.51" y="69.50" width="12.87" height="10.50" fill="#449585"/><rect x="103.38" y="69.50" width="12.87" height="10.50" fill="#38578d"/><rect x="115.24" y="69.50" width="12.87" height="10.50" fill="#433b83"/><rect x="127.11" y="69.50" width="12.87" height="10.50" fill="#38578d"/><rect x="138.98" y="69.50" width="12.87" height="10.50" fill="#3c4f8b"/><rect x="150.85" y="69.50" width="24.74" height="10.50" fill="#3f4788"/><rect x="174.59" y="69.50" width="12.87" height="10.50" fill="#3d4b8a"/><rect x="186.46" y="69.50" width="12.87" height="10.50" fill="#45327f"/><rect x="198.33" y="69.50" width="12.87" height="10.50" fill="#471b6c"/><rect x="210.20" y="69.50" width="24.74" height="10.50" fill="#472172"/><rect x="233.93" y="69.50" width="12.87" height="10.50" fill="#48186a"/><rect x="245.80" y="69.50" width="12.87" height="10.50" fill="#471d6e"/><rect x="257.67" y="69.50" width="24.74" height="10.50" fill="#472172"/><rect x="281.41" y="69.50" width="24.74" height="10.50" fill="#48186a"/><rect x="305.15" y="69.50" width="12.87" height="10.50" fill="#460d5f"/><rect x="317.02" y="69.50" width="12.87" height="10.50" fill="#472676"/><rect x="328.88" y="69.50" width="12.87" height="10.50" fill="#48186a"/><rect x="340.75" y="69.50" width="12.87" height="10.50" fill="#481467"/><rect x="352.62" y="69.50" width="12.87" height="10.50" fill="#471264"/><rect x="364.49" y="69.50" width="12.87" height="10.50" fill="#481467"/><rect x="376.36" y="69.50" width="12.87" height="10.50" fill="#481669"/><rect x="388.23" y="69.50" width="12.87" height="10.50" fill="#470f62"/><rect x="400.10" y="69.50" width="36.61" height="10.50" fill="#481467"/><rect x="435.70" y="69.50" width="12.87" height="10.50" fill="#470f62"/><rect x="447.57" y="69.50" width="24.74" height="10.50" fill="#460d5f"/><rect x="471.31" y="69.50" width="35.61" height="10.50" fill="#460a5d"/><rect x="55.90" y="60.00" width="12.87" height="10.50" fill="#a8c053"/><rect x="67.77" y="60.00" width="12.87" height="10.50" fill="#cfd33b"/><rect x="79.64" y="60.00" width="12.87" height="10.50" fill="#2e6f8e"/><rect x="91.51" y="60.00" width="12.87" height="10.50" fill="#32658e"/><rect x="103.38" y="60.00" width="12.87" height="10.50" fill="#472a7a"/><rect x="115.24" y="60.00" width="12.87" height="10.50" fill="#48186a"/><rect x="127.11" y="60.00" width="12.87" height="10.50" fill="#472a7a"/><rect x="138.98" y="60.00" width="12.87" height="10.50" fill="#472676"/><rect x="150.85" y="60.00" width="12.87" height="10.50" fill="#472a7a"/><rect x="162.72" y="60.00" width="12.87" height="10.50" fill="#443781"/><rect x="174.59" y="60.00" width="12.87" height="10.50" fill="#462e7c"/><rect x="186.46" y="60.00" width="12.87" height="10.50" fill="#471b6c"/><rect x="198.33" y="60.00" width="24.74" height="10.50" fill="#472172"/><rect x="222.06" y="60.00" width="12.87" height="10.50" fill="#472676"/><rect x="233.93" y="60.00" width="12.87" height="10.50" fill="#472172"/><rect x="245.80" y="60.00" width="24.74" height="10.50" fill="#481467"/><rect x="269.54" y="60.00" width="12.87" height="10.50" fill="#48186a"/><rect x="281.41" y="60.00" width="12.87" height="10.50" fill="#470f62"/><rect x="293.28" y="60.00" width="12.87" height="10.50" fill="#48186a"/><rect x="305.15" y="60.00" width="12.87" height="10.50" fill="#460d5f"/><rect x="317.02" y="60.00" width="60.34" height="10.50" fill="#481467"/><rect x="376.36" y="60.00" width="12.87" height="10.50" fill="#48186a"/><rect x="388.23" y="60.00" width="12.87" height="10.50" fill="#481669"/><rect x="400.10" y="60.00" width="12.87" height="10.50" fill="#481467"/><rect x="411.97" y="60.00" width="12.87" height="10.50" fill="#460d5f"/><rect x="423.84" y="60.00" width="24.74" height="10.50" fill="#471264"/><rect x="447.57" y="60.00" width="12.87" height="10.50" fill="#470f62"/><rect x="459.44" y="60.00" width="59.34" height="10.50" fill="#460a5d"/><rect x="55.90" y="50.50" width="12.87" height="10.50" fill="#449585"/><rect x="67.77" y="50.50" width="12.87" height="10.50" fill="#f0e325"/><rect x="79.64" y="50.50" width="12.87" height="10.50" fill="#509a7f"/><rect x="91.51" y="50.50" width="12.87" height="10.50" fill="#2b758e"/><rect x="103.38" y="50.50" width="12.87" height="10.50" fill="#38578d"/><rect x="115.24" y="50.50" width="12.87" height="10.50" fill="#3d4b8a"/><rect x="127.11" y="50.50" width="12.87" height="10.50" fill="#31688e"/><rect x="138.98" y="50.50" width="12.87" height="10.50" fill="#38578d"/><rect x="150.85" y="50.50" width="24.74" height="10.50" fill="#3f4788"/><rect x="174.59" y="50.50" width="12.87" height="10.50" fill="#414387"/><rect x="186.46" y="50.50" width="12.87" height="10.50" fill="#443781"/><rect x="198.33" y="50.50" width="12.87" height="10.50" fill="#433b83"/><rect x="210.20" y="50.50" width="36.61" height="10.50" fill="#472a7a"/><rect x="245.80" y="50.50" width="24.74" height="10.50" fill="#471d6e"/><rect x="269.54" y="50.50" width="12.87" height="10.50" fill="#472172"/><rect x="281.41" y="50.50" width="36.61" height="10.50" fill="#472676"/><rect x="317.02" y="50.50" width="24.74" height="10.50" fill="#471d6e"/><rect x="340.75" y="50.50" width="12.87" height="10.50" fill="#471b6c"/><rect x="352.62" y="50.50" width="24.74" height="10.50" fill="#471d6e"/><rect x="376.36" y="50.50" width="12.87" height="10.50" fill="#472172"/><rect x="388.23" y="50.50" width="12.87" height="10.50" fill="#471f70"/><rect x="400.10" y="50.50" width="36.61" height="10.50" fill="#471d6e"/><rect x="435.70" y="50.50" width="12.87" height="10.50" fill="#481467"/><rect x="447.57" y="50.50" width="12.87" height="10.50" fill="#471b6c"/><rect x="459.44" y="50.50" width="12.87" height="10.50" fill="#470f62"/><rect x="471.31" y="50.50" width="12.87" height="10.50" fill="#460d5f"/><rect x="483.18" y="50.50" width="24.74" height="10.50" fill="#470f62"/><rect x="506.92" y="50.50" width="23.74" height="10.50" fill="#460a5d"/><rect x="55.90" y="41.00" width="12.87" height="10.50" fill="#2e6f8e"/><rect x="67.77" y="41.00" width="12.87" height="10.50" fill="#a8c053"/><rect x="79.64" y="41.00" width="12.87" height="10.50" fill="#2c728e"/><rect x="91.51" y="41.00" width="12.87" height="10.50" fill="#2b788d"/><rect x="103.38" y="41.00" width="12.87" height="10.50" fill="#423f85"/><rect x="115.24" y="41.00" width="12.87" height="10.50" fill="#472a7a"/><rect x="127.11" y="41.00" width="24.74" height="10.50" fill="#414387"/><rect x="150.85" y="41.00" width="12.87" height="10.50" fill="#462e7c"/><rect x="162.72" y="41.00" width="12.87" height="10.50" fill="#443781"/><rect x="174.59" y="41.00" width="12.87" height="10.50" fill="#414387"/><rect x="186.46" y="41.00" width="12.87" height="10.50" fill="#472a7a"/><rect x="198.33" y="41.00" width="12.87" height="10.50" fill="#472172"/><rect x="210.20" y="41.00" width="12.87" height="10.50" fill="#471d6e"/><rect x="222.06" y="41.00" width="12.87" height="10.50" fill="#481467"/><rect x="233.93" y="41.00" width="12.87" height="10.50" fill="#472172"/><rect x="245.80" y="41.00" width="12.87" height="10.50" fill="#481467"/><rect x="257.67" y="41.00" width="24.74" height="10.50" fill="#48186a"/><rect x="281.41" y="41.00" width="12.87" height="10.50" fill="#481467"/><rect x="293.28" y="41.00" width="12.87" height="10.50" fill="#472172"/><rect x="305.15" y="41.00" width="24.74" height="10.50" fill="#48186a"/><rect x="328.88" y="41.00" width="12.87" height="10.50" fill="#472172"/><rect x="340.75" y="41.00" width="12.87" height="10.50" fill="#481467"/><rect x="352.62" y="41.00" width="12.87" height="10.50" fill="#48186a"/><rect x="364.49" y="41.00" width="12.87" height="10.50" fill="#481467"/><rect x="376.36" y="41.00" width="12.87" height="10.50" fill="#48186a"/><rect x="388.23" y="41.00" width="48.48" height="10.50" fill="#481467"/><rect x="435.70" y="41.00" width="12.87" height="10.50" fill="#471264"/><rect x="447.57" y="41.00" width="12.87" height="10.50" fill="#481467"/><rect x="459.44" y="41.00" width="12.87" height="10.50" fill="#460d5f"/><rect x="471.31" y="41.00" width="12.87" height="10.50" fill="#460a5d"/><rect x="483.18" y="41.00" width="12.87" height="10.50" fill="#460d5f"/><rect x="495.05" y="41.00" width="12.87" height="10.50" fill="#470f62"/><rect x="506.92" y="41.00" width="35.61" height="10.50" fill="#460a5d"/><rect x="55.90" y="31.50" width="12.87" height="10.50" fill="#3a8f87"/><rect x="67.77" y="31.50" width="12.87" height="10.50" fill="#d8d836"/><rect x="79.64" y="31.50" width="12.87" height="10.50" fill="#2e6f8e"/><rect x="91.51" y="31.50" width="12.87" height="10.50" fill="#2b758e"/><rect x="103.38" y="31.50" width="12.87" height="10.50" fill="#34618d"/><rect x="115.24" y="31.50" width="12.87" height="10.50" fill="#443781"/><rect x="127.11" y="31.50" width="12.87" height="10.50" fill="#2c8589"/><rect x="138.98" y="31.50" width="36.61" height="10.50" fill="#414387"/><rect x="174.59" y="31.50" width="12.87" height="10.50" fill="#472a7a"/><rect x="186.46" y="31.50" width="12.87" height="10.50" fill="#472172"/><rect x="198.33" y="31.50" width="24.74" height="10.50" fill="#48186a"/><rect x="222.06" y="31.50" width="24.74" height="10.50" fill="#472172"/><rect x="245.80" y="31.50" width="12.87" height="10.50" fill="#470f62"/><rect x="257.67" y="31.50" width="12.87" height="10.50" fill="#481467"/><rect x="269.54" y="31.50" width="24.74" height="10.50" fill="#460a5d"/><rect x="293.28" y="31.50" width="36.61" height="10.50" fill="#481467"/><rect x="328.88" y="31.50" width="12.87" height="10.50" fill="#48186a"/><rect x="340.75" y="31.50" width="12.87" height="10.50" fill="#481467"/><rect x="352.62" y="31.50" width="12.87" height="10.50" fill="#48186a"/><rect x="364.49" y="31.50" width="24.74" height="10.50" fill="#481467"/><rect x="388.23" y="31.50" width="24.74" height="10.50" fill="#471264"/><rect x="411.97" y="31.50" width="12.87" height="10.50" fill="#481669"/><rect x="423.84" y="31.50" width="12.87" height="10.50" fill="#481467"/><rect x="435.70" y="31.50" width="12.87" height="10.50" fill="#470f62"/><rect x="447.57" y="31.50" width="12.87" height="10.50" fill="#481467"/><rect x="459.44" y="31.50" width="12.87" height="10.50" fill="#460d5f"/><rect x="471.31" y="31.50" width="24.74" height="10.50" fill="#460a5d"/><rect x="495.05" y="31.50" width="12.87" height="10.50" fill="#470f62"/><rect x="506.92" y="31.50" width="36.61" height="10.50" fill="#460a5d"/><rect x="542.52" y="31.50" width="11.87" height="10.50" fill="#45085a"/><rect x="55.90" y="22.00" width="12.87" height="10.50" fill="#318888"/><rect x="67.77" y="22.00" width="12.87" height="10.50" fill="#a8c053"/><rect x="79.64" y="22.00" width="24.74" height="10.50" fill="#2c8589"/><rect x="103.38" y="22.00" width="12.87" height="10.50" fill="#414387"/><rect x="115.24" y="22.00" width="12.87" height="10.50" fill="#472a7a"/><rect x="127.11" y="22.00" width="12.87" height="10.50" fill="#34618d"/><rect x="138.98" y="22.00" width="12.87" height="10.50" fill="#3f4788"/><rect x="150.85" y="22.00" width="12.87" height="10.50" fill="#433b83"/><rect x="162.72" y="22.00" width="12.87" height="10.50" fill="#414387"/><rect x="174.59" y="22.00" width="12.87" height="10.50" fill="#472172"/><rect x="186.46" y="22.00" width="24.74" height="10.50" fill="#470f62"/><rect x="210.20" y="22.00" width="12.87" height="10.50" fill="#471264"/><rect x="222.06" y="22.00" width="12.87" height="10.50" fill="#481467"/><rect x="233.93" y="22.00" width="12.87" height="10.50" fill="#481669"/><rect x="245.80" y="22.00" width="12.87" height="10.50" fill="#460d5f"/><rect x="257.67" y="22.00" width="24.74" height="10.50" fill="#481467"/><rect x="281.41" y="22.00" width="12.87" height="10.50" fill="#48186a"/><rect x="293.28" y="22.00" width="12.87" height="10.50" fill="#481467"/><rect x="305.15" y="22.00" width="12.87" height="10.50" fill="#470f62"/><rect x="317.02" y="22.00" width="12.87" height="10.50" fill="#48186a"/><rect x="328.88" y="22.00" width="12.87" height="10.50" fill="#481467"/><rect x="340.75" y="22.00" width="12.87" height="10.50" fill="#460d5f"/><rect x="352.62" y="22.00" width="24.74" height="10.50" fill="#481669"/><rect x="376.36" y="22.00" width="12.87" height="10.50" fill="#470f62"/><rect x="388.23" y="22.00" width="12.87" height="10.50" fill="#460a5d"/><rect x="400.10" y="22.00" width="12.87" height="10.50" fill="#470f62"/><rect x="411.97" y="22.00" width="12.87" height="10.50" fill="#471264"/><rect x="423.84" y="22.00" width="12.87" height="10.50" fill="#481467"/><rect x="435.70" y="22.00" width="12.87" height="10.50" fill="#470f62"/><rect x="447.57" y="22.00" width="12.87" height="10.50" fill="#460a5d"/><rect x="459.44" y="22.00" width="12.87" height="10.50" fill="#460d5f"/><rect x="471.31" y="22.00" width="36.61" height="10.50" fill="#460a5d"/><rect x="506.92" y="22.00" width="12.87" height="10.50" fill="#460d5f"/><rect x="518.79" y="22.00" width="24.74" height="10.50" fill="#460a5d"/><rect x="542.52" y="22.00" width="23.74" height="10.50" fill="#45085a"/><rect x="55.90" y="12.50" width="12.87" height="10.50" fill="#8ab163"/><rect x="67.77" y="12.50" width="12.87" height="10.50" fill="#95b65e"/><rect x="79.64" y="12.50" width="12.87" height="10.50" fill="#2b758e"/><rect x="91.51" y="12.50" width="12.87" height="10.50" fill="#2c8589"/><rect x="103.38" y="12.50" width="12.87" height="10.50" fill="#31688e"/><rect x="115.24" y="12.50" width="12.87" height="10.50" fill="#3d4b8a"/><rect x="127.11" y="12.50" width="12.87" height="10.50" fill="#355e8d"/><rect x="138.98" y="12.50" width="36.61" height="10.50" fill="#414387"/><rect x="174.59" y="12.50" width="12.87" height="10.50" fill="#472a7a"/><rect x="186.46" y="12.50" width="12.87" height="10.50" fill="#48186a"/><rect x="198.33" y="12.50" width="12.87" height="10.50" fill="#414387"/><rect x="210.20" y="12.50" width="24.74" height="10.50" fill="#462e7c"/><rect x="233.93" y="12.50" width="12.87" height="10.50" fill="#45327f"/><rect x="245.80" y="12.50" width="12.87" height="10.50" fill="#472676"/><rect x="257.67" y="12.50" width="12.87" height="10.50" fill="#48186a"/><rect x="269.54" y="12.50" width="48.48" height="10.50" fill="#471d6e"/><rect x="317.02" y="12.50" width="24.74" height="10.50" fill="#472172"/><rect x="340.75" y="12.50" width="12.87" height="10.50" fill="#481467"/><rect x="352.62" y="12.50" width="24.74" height="10.50" fill="#48186a"/><rect x="376.36" y="12.50" width="12.87" height="10.50" fill="#470f62"/><rect x="388.23" y="12.50" width="12.87" height="10.50" fill="#471d6e"/><rect x="400.10" y="12.50" width="48.48" height="10.50" fill="#48186a"/><rect x="447.57" y="12.50" width="12.87" height="10.50" fill="#470f62"/><rect x="459.44" y="12.50" width="12.87" height="10.50" fill="#460d5f"/><rect x="471.31" y="12.50" width="12.87" height="10.50" fill="#460a5d"/><rect x="483.18" y="12.50" width="24.74" height="10.50" fill="#460d5f"/><rect x="506.92" y="12.50" width="71.21" height="10.50" fill="#460a5d"/><rect x="55.90" y="4.00" width="12.87" height="9.50" fill="#a8c053"/><rect x="67.77" y="4.00" width="12.87" height="9.50" fill="#f0e325"/><rect x="79.64" y="4.00" width="12.87" height="9.50" fill="#2b758e"/><rect x="91.51" y="4.00" width="12.87" height="9.50" fill="#74a86e"/><rect x="103.38" y="4.00" width="12.87" height="9.50" fill="#318888"/><rect x="115.24" y="4.00" width="12.87" height="9.50" fill="#3d4b8a"/><rect x="127.11" y="4.00" width="12.87" height="9.50" fill="#2c8589"/><rect x="138.98" y="4.00" width="12.87" height="9.50" fill="#3f4788"/><rect x="150.85" y="4.00" width="12.87" height="9.50" fill="#414387"/><rect x="162.72" y="4.00" width="12.87" height="9.50" fill="#38578d"/><rect x="174.59" y="4.00" width="12.87" height="9.50" fill="#433b83"/><rect x="186.46" y="4.00" width="12.87" height="9.50" fill="#443781"/><rect x="198.33" y="4.00" width="24.74" height="9.50" fill="#472a7a"/><rect x="222.06" y="4.00" width="12.87" height="9.50" fill="#462e7c"/><rect x="233.93" y="4.00" width="12.87" height="9.50" fill="#443781"/><rect x="245.80" y="4.00" width="12.87" height="9.50" fill="#48186a"/><rect x="257.67" y="4.00" width="12.87" height="9.50" fill="#472676"/><rect x="269.54" y="4.00" width="12.87" height="9.50" fill="#470f62"/><rect x="281.41" y="4.00" width="24.74" height="9.50" fill="#48186a"/><rect x="305.15" y="4.00" width="12.87" height="9.50" fill="#481467"/><rect x="317.02" y="4.00" width="12.87" height="9.50" fill="#471d6e"/><rect x="328.88" y="4.00" width="12.87" height="9.50" fill="#48186a"/><rect x="340.75" y="4.00" width="12.87" height="9.50" fill="#470f62"/><rect x="352.62" y="4.00" width="60.34" height="9.50" fill="#48186a"/><rect x="411.97" y="4.00" width="24.74" height="9.50" fill="#471d6e"/><rect x="435.70" y="4.00" width="12.87" height="9.50" fill="#481467"/><rect x="447.57" y="4.00" width="12.87" height="9.50" fill="#471264"/><rect x="459.44" y="4.00" width="36.61" height="9.50" fill="#470f62"/><rect x="495.05" y="4.00" width="94.95" height="9.50" fill="#460d5f"/></g>
<g stroke="#333333" stroke-width="1.07"><line x1="61.83" y1="432.3" x2="61.83" y2="437.3"/><line x1="121.18" y1="432.3" x2="121.18" y2="437.3"/><line x1="180.52" y1="432.3" x2="180.52" y2="437.3"/><line x1="239.87" y1="432.3" x2="239.87" y2="437.3"/><line x1="299.21" y1="432.3" x2="299.21" y2="437.3"/><line x1="358.56" y1="432.3" x2="358.56" y2="437.3"/><line x1="417.90" y1="432.3" x2="417.90" y2="437.3"/><line x1="477.25" y1="432.3" x2="477.25" y2="437.3"/><line x1="536.59" y1="432.3" x2="536.59" y2="437.3"/><line x1="50.0" y1="388.75" x2="55.0" y2="388.75"/><line x1="50.0" y1="341.25" x2="55.0" y2="341.25"/><line x1="50.0" y1="293.75" x2="55.0" y2="293.75"/><line x1="50.0" y1="246.25" x2="55.0" y2="246.25"/><line x1="50.0" y1="198.75" x2="55.0" y2="198.75"/><line x1="50.0" y1="151.25" x2="55.0" y2="151.25"/><line x1="50.0" y1="103.75" x2="55.0" y2="103.75"/><line x1="50.0" y1="56.25" x2="55.0" y2="56.25"/><line x1="50.0" y1="8.75" x2="55.0" y2="8.75"/></g>
<rect x="600.35" y="38.45" width="28.15" height="383.7" fill="url(#lg)" stroke="#333" stroke-width="0.9"/>
<line x1="628.60" y1="376.50" x2="630.30" y2="376.50" stroke="#333333" stroke-width="1"/><line x1="628.60" y1="324.53" x2="630.30" y2="324.53" stroke="#333333" stroke-width="1"/><line x1="628.60" y1="272.56" x2="630.30" y2="272.56" stroke="#333333" stroke-width="1"/><line x1="628.60" y1="220.59" x2="630.30" y2="220.59" stroke="#333333" stroke-width="1"/><line x1="628.60" y1="168.62" x2="630.30" y2="168.62" stroke="#333333" stroke-width="1"/><line x1="628.60" y1="116.65" x2="630.30" y2="116.65" stroke="#333333" stroke-width="1"/><line x1="628.60" y1="64.68" x2="630.30" y2="64.68" stroke="#333333" stroke-width="1"/>
<text x="61.83" y="459.6" text-anchor="middle">0</text><text x="121.18" y="459.6" text-anchor="middle">5</text><text x="180.52" y="459.6" text-anchor="middle">10</text><text x="239.87" y="459.6" text-anchor="middle">15</text><text x="299.21" y="459.6" text-anchor="middle">20</text><text x="358.56" y="459.6" text-anchor="middle">25</text><text x="417.90" y="459.6" text-anchor="middle">30</text><text x="477.25" y="459.6" text-anchor="middle">35</text><text x="536.59" y="459.6" text-anchor="middle">40</text><text x="46.2" y="395.05" text-anchor="end">5</text><text x="46.2" y="347.55" text-anchor="end">10</text><text x="46.2" y="300.05" text-anchor="end">15</text><text x="46.2" y="252.55" text-anchor="end">20</text><text x="46.2" y="205.05" text-anchor="end">25</text><text x="46.2" y="157.55" text-anchor="end">30</text><text x="46.2" y="110.05" text-anchor="end">35</text><text x="46.2" y="62.55" text-anchor="end">40</text><text x="46.2" y="15.05" text-anchor="end">45</text><text x="634.00" y="383.40">2</text><text x="634.00" y="331.43">3</text><text x="634.00" y="279.46">4</text><text x="634.00" y="227.49">5</text><text x="634.00" y="175.52">6</text><text x="634.00" y="123.55">7</text><text x="634.00" y="71.58">8</text>
<text x="600.3" y="29.9" style="font-size:18.4px">Error</text>
<text x="322.8" y="485.7" text-anchor="middle" style="font-size:18.7px">t_data</text>
<text transform="translate(16.3,217.9) rotate(-90)" text-anchor="middle" style="font-size:18.7px">t_pred</text>
</svg>
</body></html>
